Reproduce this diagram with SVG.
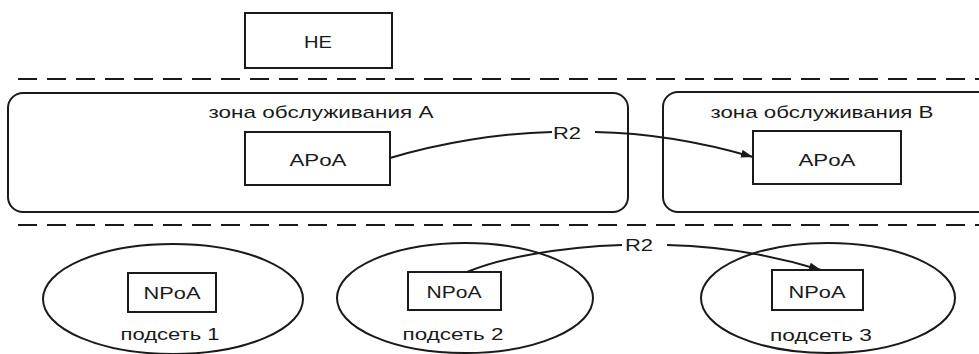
<svg xmlns="http://www.w3.org/2000/svg" width="979" height="354" viewBox="0 0 979 354">
<defs>
<style>
.box{fill:#fff;stroke:#1a1a1a;stroke-width:2}
.zone{fill:none;stroke:#1a1a1a;stroke-width:2}
.dash{fill:none;stroke:#1a1a1a;stroke-width:2.2;stroke-dasharray:19 10}
.conn{fill:none;stroke:#1a1a1a;stroke-width:2}
text{font-family:"Liberation Sans",Arial,sans-serif;font-size:17px;fill:#1a1a1a;text-anchor:middle}
</style>
<marker id="arr" viewBox="0 0 12 8" refX="12" refY="4" markerWidth="12" markerHeight="8" markerUnits="userSpaceOnUse" orient="auto">
<path d="M0,0 L12,4 L0,8 Z" fill="#1a1a1a"/>
</marker>
</defs>
<rect width="979" height="354" fill="#fff"/>
<g id="separators">
<line class="dash" x1="18" y1="79" x2="979" y2="79"/>
<line class="dash" x1="18" y1="225" x2="979" y2="225"/>
</g>
<g id="HE">
<rect class="box" x="245" y="13" width="147" height="55"/>
<text x="318" y="48" textLength="28" lengthAdjust="spacingAndGlyphs">HE</text>
</g>
<g id="zoneA">
<rect class="zone" x="8" y="93" width="620" height="119" rx="15"/>
<text x="321" y="118" textLength="225" lengthAdjust="spacingAndGlyphs">зона обслуживания А</text>
</g>
<g id="zoneB">
<rect class="zone" x="663" y="92" width="340" height="120" rx="15"/>
<text x="822" y="118" textLength="223" lengthAdjust="spacingAndGlyphs">зона обслуживания В</text>
</g>
<g id="apoaA">
<rect class="box" x="245" y="132" width="145" height="53"/>
<text x="318" y="166" textLength="57" lengthAdjust="spacingAndGlyphs">APoA</text>
</g>
<g id="apoaB">
<rect class="box" x="753" y="131" width="148" height="53"/>
<text x="827" y="166" textLength="57" lengthAdjust="spacingAndGlyphs">APoA</text>
</g>
<g id="subnet1">
<ellipse class="zone" cx="173" cy="299" rx="130" ry="55"/>
<rect class="box" x="128" y="273" width="88" height="39"/>
<text x="172" y="299" textLength="57" lengthAdjust="spacingAndGlyphs">NPoA</text>
<text x="170" y="340" textLength="99" lengthAdjust="spacingAndGlyphs">подсеть 1</text>
</g>
<g id="subnet2">
<ellipse class="zone" cx="465" cy="298" rx="128" ry="55"/>
<rect class="box" x="408" y="272" width="93" height="38"/>
<text x="454" y="298" textLength="55" lengthAdjust="spacingAndGlyphs">NPoA</text>
<text x="453" y="340" textLength="101" lengthAdjust="spacingAndGlyphs">подсеть 2</text>
</g>
<g id="subnet3">
<ellipse class="zone" cx="828" cy="298" rx="127" ry="55"/>
<rect class="box" x="772" y="270" width="91" height="40"/>
<text x="817" y="298" textLength="57" lengthAdjust="spacingAndGlyphs">NPoA</text>
<text x="821" y="341" textLength="102" lengthAdjust="spacingAndGlyphs">подсеть 3</text>
</g>
<g id="connectors">
<path class="conn" d="M390,158 C440,143 500,133 552,132"/>
<path class="conn" d="M595,132 C650,133 705,143 753,157" marker-end="url(#arr)"/>
<text x="567" y="139" textLength="28" lengthAdjust="spacingAndGlyphs">R2</text>
<path class="conn" d="M467,272 C500,258 560,247 622,245"/>
<path class="conn" d="M667,245 C720,246 775,256 821,270" marker-end="url(#arr)"/>
<text x="639" y="251" textLength="28" lengthAdjust="spacingAndGlyphs">R2</text>
</g>
</svg>
